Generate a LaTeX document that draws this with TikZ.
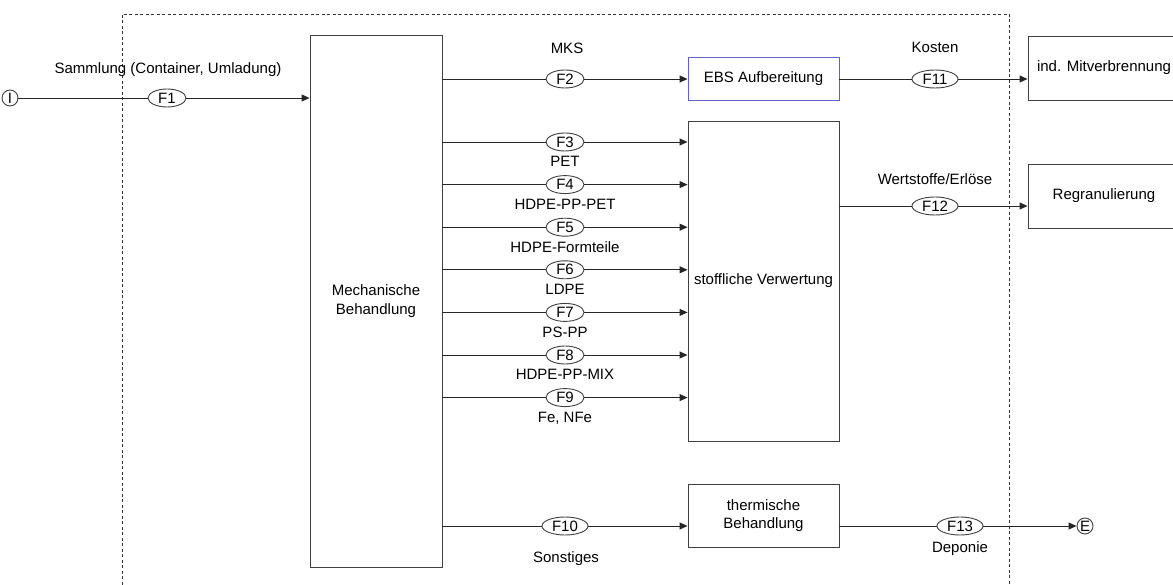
\documentclass[tikz,border=0pt]{standalone}
\usepackage{fontspec}
\setmainfont{Liberation Sans}
\usetikzlibrary{
        arrows.meta,
        shapes.geometric,
        positioning
    }
\definecolor{ebsblue}{RGB}{96,96,200}
\tikzset{>={Triangle[length=8pt,width=7pt]},
    box/.style={draw=black!75,line width=0.9pt,align=center,inner sep=0pt},
    flow/.style={ellipse,draw=black!75,line width=0.9pt,fill=white,inner sep=0pt,minimum width=38pt,minimum height=18pt},
    wide/.style={minimum width=46pt},
    term/.style={circle,draw=black!75,line width=0.9pt,fill=white,inner sep=0pt,minimum size=16pt},
    lbl/.style={inner sep=0pt},
    conn/.style={->,line width=0.9pt,draw=black!85}}

\begin{document}
\begin{tikzpicture}[x=1pt,y=-1pt,font=\fontsize{15}{18.5}\selectfont]
    \useasboundingbox (0,0) rectangle (1173,585);
    % system border
    \draw[black!80,line width=0.7pt,dash pattern=on 3pt off 2.5pt]
        (122,590) -- (122,14) -- (1009,14) -- (1009,590);

    % boxes
    \node[box,minimum width=132pt,minimum height=532pt] (mech) at (376,301) {Mechanische\\Behandlung};
    \node[box,draw=ebsblue,minimum width=151pt,minimum height=43pt] (ebs) at (763.5,78.5) {EBS Aufbereitung};
    \node[box,minimum width=151pt,minimum height=320pt] (stoff) at (763.5,281) {stoffliche Verwertung};
    \node[box,minimum width=151pt,minimum height=63pt] (therm) at (763.5,515.5) {thermische\\Behandlung};
    \node[box,minimum width=152pt,minimum height=64pt] (mitv) at (1104,68) {ind. Mitverbrennung};
    \node[box,minimum width=152pt,minimum height=64pt] (regr) at (1104,196) {Regranulierung};

    % input / output
    \node[term] (in) at (10,98) {I};
    \node[term] (out) at (1085,526) {E};

    % flows
    \node[flow] (f1) at (167,98) {F1};
    \node[lbl] at (168,70) {Sammlung (Container, Umladung)};
    \node[flow] (f2) at (565,79) {F2};
    \node[lbl] at (567,48) {MKS};
    \node[flow,wide] (f11) at (935,79) {F11};
    \node[lbl] at (935,47) {Kosten};
    \node[flow,wide] (f12) at (935,206) {F12};
    \node[lbl] at (935,179) {Wertstoffe/Erlöse};
    \node[flow,wide] (f10) at (565,526) {F10};
    \node[lbl] at (566,559) {Sonstiges};
    \node[flow,wide] (f13) at (960,526) {F13};
    \node[lbl] at (960,549) {Deponie};

    \draw[conn] (in) -- (f1) -- (mech.west |- f1);
    \draw[conn] (mech.east |- f2) -- (f2) -- (ebs.west |- f2);
    \draw[conn] (ebs.east |- f11) -- (f11) -- (mitv.west |- f11);
    \draw[conn] (stoff.east |- f12) -- (f12) -- (regr.west |- f12);
    \draw[conn] (mech.east |- f10) -- (f10) -- (therm.west |- f10);
    \draw[conn] (therm.east |- f13) -- (f13) -- (out);

    % material fractions
    \foreach \i/\frac in {3/PET,4/HDPE-PP-PET,5/HDPE-Formteile,6/LDPE,7/PS-PP,8/HDPE-PP-MIX,9/{Fe, NFe}} {
        \node[flow] (f\i) at (565,{142+(\i-3)*42.6}) {F\i};
        \node[lbl,below=4.5pt of f\i] {\frac};
        \draw[conn] (mech.east |- f\i) -- (f\i) -- (stoff.west |- f\i);
    }
\end{tikzpicture}
\end{document}
